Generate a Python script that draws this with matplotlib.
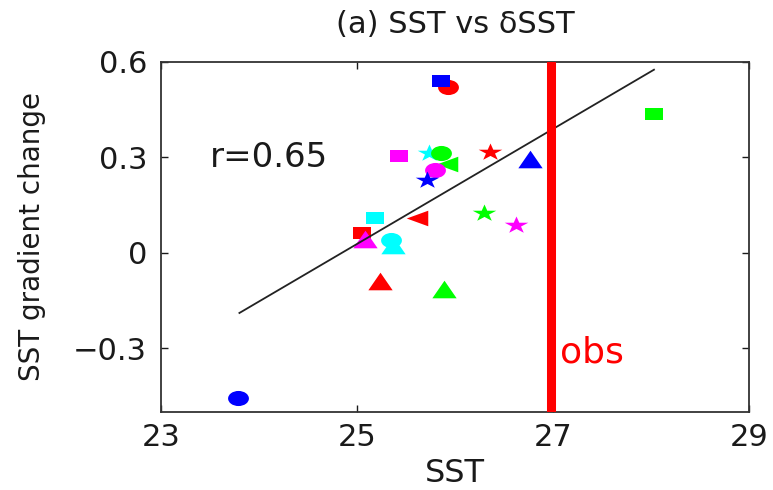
import matplotlib
matplotlib.use("Agg")
import matplotlib.pyplot as plt
from matplotlib.markers import MarkerStyle
from matplotlib.transforms import Affine2D

plt.rcParams['font.family'] = ['DejaVu Sans']

# ---- data ----
sst = [23.79, 25.93, 25.86, 25.43, 25.73, 25.92, 25.86, 25.80, 25.71,
       26.36, 26.77, 28.03, 26.30, 26.62, 25.18, 25.61, 25.05, 25.08,
       25.37, 25.35, 25.23, 25.89]
dsst = [-0.457, 0.522, 0.538, 0.305, 0.312, 0.278, 0.312, 0.259, 0.228,
        0.316, 0.296, 0.435, 0.124, 0.087, 0.110, 0.110, 0.062, 0.044,
        0.023, 0.039, -0.088, -0.114]
colors = ['blue', 'red', 'blue', 'magenta', 'cyan', 'lime', 'lime', 'magenta', 'blue',
          'red', 'blue', 'lime', 'lime', 'magenta', 'cyan', 'red', 'red', 'magenta',
          'cyan', 'cyan', 'red', 'lime']
markers = ['o', 'o', 's', 's', '*', '<', 'o', 'o', '*',
           '*', '^', 's', '*', '*', 's', '<', 's', '^',
           '^', 'o', '^', '^']
fit_x = [23.80, 28.03]
fit_y = [-0.189, 0.575]
obs_sst = 26.98
r_text = "r=0.65"
xticks = [23, 25, 27, 29]
yticks = [-0.3, 0, 0.3, 0.6]
ytick_labels = ['\u22120.3', '0', '0.3', '0.6']

# ---- style ----
STRETCH = 1.38
msize = {'o': 15.0, 's': 12.7, '^': 17.5, '<': 15.5, '*': 17.0}
TXT = '#1a1a1a'


def stretched(m):
    ms = MarkerStyle(m)
    p = ms.get_path().transformed(ms.get_transform())
    return p.transformed(Affine2D().scale(STRETCH, 1.0))


fig = plt.figure(figsize=(7.73, 4.90), dpi=100)
ax = fig.add_axes([0.2083, 0.1592, 0.969 - 0.2083, 0.874 - 0.1592])

for x, y, c, m in zip(sst, dsst, colors, markers):
    ax.plot([x], [y], linestyle='none', marker=stretched(m), markersize=msize[m],
            markerfacecolor=c, markeredgewidth=0, zorder=2)

ax.plot(fit_x, fit_y, color='#222222', lw=1.3, zorder=3)
ax.axvline(obs_sst, color='red', lw=6.5, zorder=4)

ax.text(obs_sst + 0.09, -0.313, 'obs', color='red', fontsize=26,
        va='center', ha='left')
ax.text(23.5, 0.30, r_text, color=TXT, fontsize=24.5, va='center', ha='left')

ax.set_xlim(23, 29)
ax.set_ylim(-0.5, 0.6)
ax.set_xticks(xticks)
ax.set_xticklabels([str(t) for t in xticks])
ax.set_yticks(yticks)
ax.set_yticklabels(ytick_labels)
ax.tick_params(direction='in', length=5, width=1, top=True, right=True,
               labelsize=22, colors=TXT)
ax.tick_params(axis='x', pad=8)
ax.tick_params(axis='y', pad=10)
for s in ax.spines.values():
    s.set_linewidth(1.3)
    s.set_color('#333333')

ax.set_xlabel('SST', fontsize=23, color=TXT)
ax.xaxis.set_label_coords(0.5, -0.132)
ax.set_ylabel('SST gradient change', fontsize=20, color=TXT)
ax.yaxis.set_label_coords(-0.195, 0.5)
ax.set_title('(a) SST vs \u03b4SST', fontsize=22, color=TXT, pad=21)

fig.savefig('out.png', dpi=100)
